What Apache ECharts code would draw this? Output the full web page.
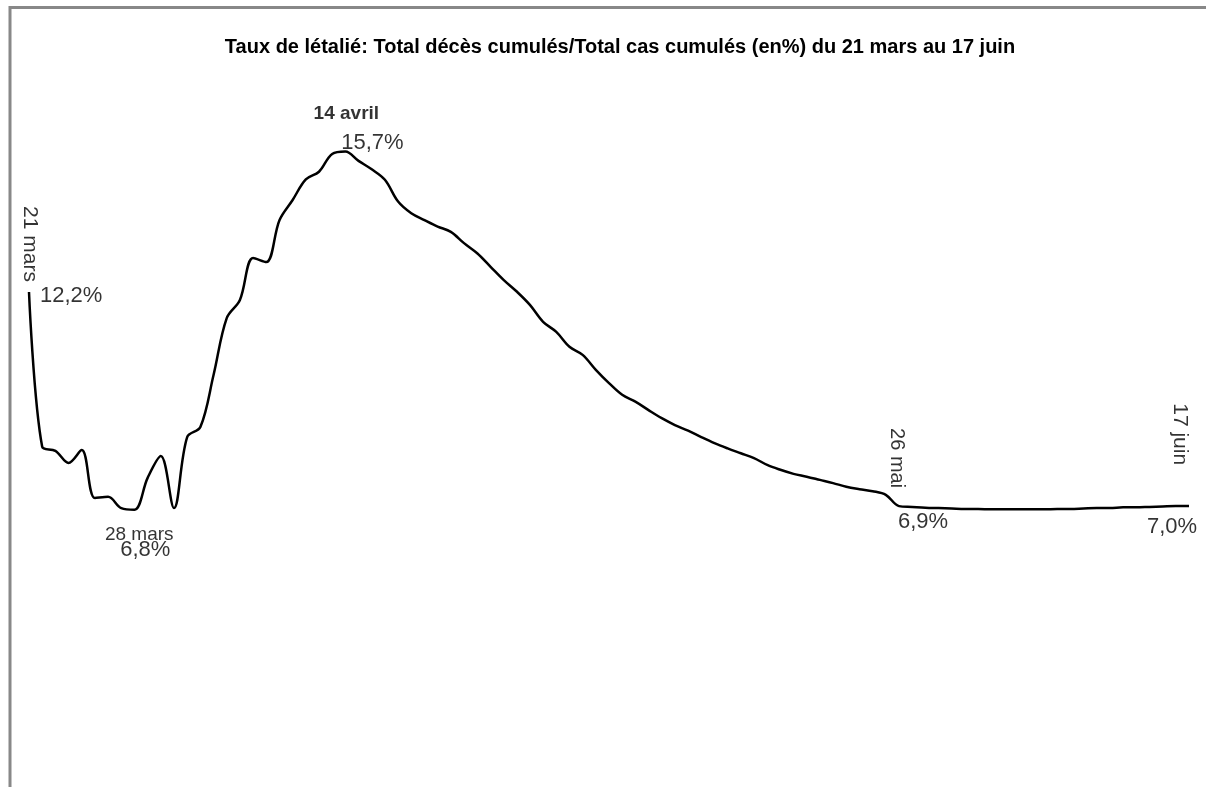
<!DOCTYPE html>
<html>
<head>
<meta charset="utf-8">
<script src="https://cdn.jsdelivr.net/npm/echarts@6/dist/echarts.min.js"></script>
<style>
  html, body { margin: 0; padding: 0; background: #fff; }
  #chart { width: 1206px; height: 787px; }
</style>
</head>
<body>
<div id="chart"></div>
<script>
// jours du 21 mars au 17 juin
let months = [['mars', 21, 31], ['avril', 1, 30], ['mai', 1, 31], ['juin', 1, 17]];
let days = [];
months.forEach(function (m) {
  for (let d = m[1]; d <= m[2]; d++) days.push(d + ' ' + m[0]);
});

// taux de letalite (%)
let rate = [
  12.2, 8.36, 8.26, 7.96, 8.28, 7.09, 7.12, 6.84, 6.80, 7.59,
  8.13, 6.84, 8.60, 8.85, 10.14, 11.55, 12.00, 13.04, 12.94, 13.98,
  14.48, 14.99, 15.18, 15.62, 15.68, 15.45, 15.24, 14.98, 14.44, 14.15,
  13.98, 13.82, 13.69, 13.41, 13.16, 12.83, 12.50, 12.21, 11.88, 11.46,
  11.21, 10.84, 10.64, 10.27, 9.94, 9.65, 9.48, 9.27, 9.07, 8.90,
  8.76, 8.60, 8.45, 8.32, 8.20, 8.08, 7.91, 7.79, 7.69, 7.62,
  7.54, 7.46, 7.37, 7.31, 7.26, 7.17, 6.89, 6.87, 6.85, 6.84,
  6.83, 6.82, 6.82, 6.81, 6.81, 6.81, 6.81, 6.81, 6.82, 6.82,
  6.83, 6.84, 6.84, 6.86, 6.86, 6.87, 6.88, 6.89, 6.89
];

// points annotes
let keyIdx = [0, 7, 24, 66, 88];
let keyDate = ['21 mars', '28 mars', '14 avril', '26 mai', '17 juin'];
let keyPct = ['12,2%', '6,8%', '15,7%', '6,9%', '7,0%'];

const FONT = 'Liberation Sans';

// placement des etiquettes (dx, dy depuis le point)
let dateStyle = [
  {dx: 1, dy: -10, rotate: -90, align: 'right', size: 21, weight: 'normal'},
  {dx: 18, dy: 27, rotate: 0, align: 'center', size: 19, weight: 'normal'},
  {dx: 1, dy: -38, rotate: 0, align: 'center', size: 19, weight: 'bold'},
  {dx: -2, dy: -18, rotate: -90, align: 'right', size: 20, weight: 'normal'},
  {dx: -9, dy: -41, rotate: -90, align: 'right', size: 21, weight: 'normal'}
];
let pctStyle = [
  {dx: 11, dy: 4, align: 'left'},
  {dx: 24, dy: 42, align: 'center'},
  {dx: 27, dy: -9, align: 'center'},
  {dx: 24, dy: 16, align: 'center'},
  {dx: -17, dy: 21, align: 'center'}
];

function annot(texts, styles) {
  return keyIdx.map(function (i, k) {
    let s = styles[k];
    return {
      value: [i, rate[i]],
      label: {
        show: true,
        formatter: texts[k],
        position: [1 + s.dx, 1 + s.dy],
        align: s.align,
        verticalAlign: 'middle',
        rotate: s.rotate || 0,
        fontSize: s.size || 22,
        fontWeight: s.weight || 'normal',
        fontFamily: FONT,
        color: '#000'
      }
    };
  });
}

let chart = echarts.init(document.getElementById('chart'));

chart.setOption({
  animation: false,
  backgroundColor: '#fff',
  title: {
    text: 'Taux de létalié: Total décès cumulés/Total cas cumulés (en%) du 21 mars au 17 juin',
    left: 615,
    textAlign: 'center',
    top: 32,
    textStyle: {fontFamily: FONT, fontSize: 20, fontWeight: 'bold', color: '#000'}
  },
  graphic: [{
    type: 'rect',
    shape: {x: 10, y: 7.5, width: 1210, height: 800},
    style: {fill: null, stroke: '#888', lineWidth: 3},
    silent: true
  }],
  grid: {left: 29, right: 17, top: 58, bottom: 3},
  xAxis: {
    type: 'category',
    data: days,
    boundaryGap: false,
    show: false
  },
  yAxis: {
    type: 'value',
    min: 0,
    max: 18,
    show: false
  },
  series: [
    {
      type: 'line',
      data: rate,
      smooth: 0.35,
      showSymbol: false,
      lineStyle: {color: '#000', width: 2.5}
    },
    {
      type: 'scatter',
      symbolSize: 2,
      itemStyle: {color: 'rgba(0,0,0,0)'},
      data: annot(keyDate, dateStyle)
    },
    {
      type: 'scatter',
      symbolSize: 2,
      itemStyle: {color: 'rgba(0,0,0,0)'},
      data: annot(keyPct, pctStyle)
    }
  ]
});
</script>
</body>
</html>
